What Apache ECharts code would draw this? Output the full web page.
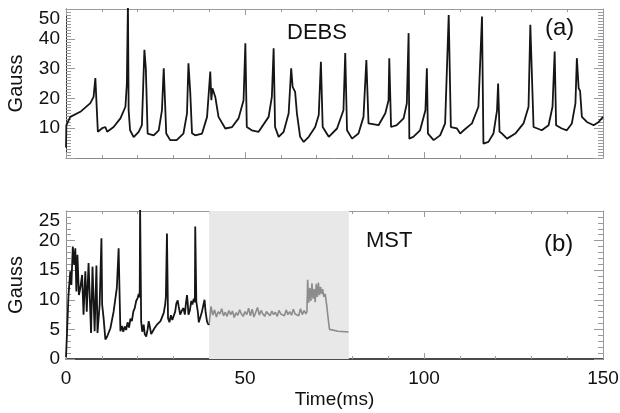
<!DOCTYPE html>
<html><head><meta charset="utf-8">
<script src="https://cdn.jsdelivr.net/npm/echarts@6/dist/echarts.min.js"></script>
<style>html,body{margin:0;padding:0;background:#fff}#c{width:620px;height:413px}</style>
</head><body><div id="c"></div>
<script>
// ---- Data ----
var debsTime = [0,0.1,1.2,4,6.8,7.7,8.2,8.6,8.9,10.1,11,11.5,13.3,15.2,16.6,17.0,17.3,17.5,17.9,18.9,20.3,21.2,21.9,22.3,22.8,24.5,25.9,26.8,27.3,28.0,29.1,30.9,32.8,33.8,34.2,34.7,35.2,36.1,38.0,39.4,40.3,40.6,40.9,41.7,42.6,44.5,46.4,48.2,49.6,50.1,50.5,51.9,53.8,56.6,57.5,58.0,58.4,59.4,60.8,62.2,62.9,63.3,64.0,64.5,65.4,66.4,67.8,69.6,70.6,71.2,71.7,73.4,73.8,75.7,77.5,78.0,78.5,79.9,81.7,83.1,83.9,84.5,87.3,89.2,90.1,90.3,90.8,92.4,94.3,95.2,95.7,95.9,97.0,98.9,100.4,100.8,101.1,102.7,104.5,105.9,106.9,107.5,109.2,110.1,111.1,113.4,115.2,116.2,116.6,118.0,119.4,120.4,120.7,121.1,121.8,123.2,125.5,127.8,129.2,129.7,130.6,132.9,134.8,135.9,136.5,136.9,138.5,139.9,141.3,142.3,142.7,143.2,143.6,144.1,145.5,147.4,148.8,150];
var debsGauss = [3.5,11,13.8,15.5,18.4,20.5,26.8,26.2,8.8,10,10.4,8.8,10.4,13.3,17.2,25,52,16,9.3,7,8.8,11,36.3,30,8.2,7.6,9.3,16,30.1,8.2,6,6,8.2,15,31.8,22.2,8.3,7.6,8.2,13.8,29,19.4,23.4,20.5,13.8,9.9,10.4,13.3,19.4,38.5,10.4,9.3,8.8,13.8,20.5,36.8,10.4,7.1,8.8,15,30.1,23.9,22.2,15,7.1,5.4,7.1,10.4,14.4,32.3,10.4,7.1,7.6,9.9,16,35.2,9.3,6.5,8.2,13.8,32.9,11.6,11,15,19.4,33.5,10.4,11,13.3,18.3,41.9,6.5,7.1,9.3,16,30.1,8.2,6,7.6,11.6,48,10.4,9.9,8.2,9.3,11.6,17.2,47.5,4.8,5.4,8.2,16,25,8.8,8.2,6.5,8.2,11.6,17.2,44.7,10.4,9.3,11,17.2,35.7,11,9.9,9.3,11.6,18.3,33.5,23.4,22.5,13.8,12.1,11,12.1,13.8];

var mstTime = [0,0.3,0.7,1.2,1.5,1.9,2.3,2.6,2.9,3.2,3.6,4.0,4.5,4.9,5.4,5.8,6.3,7.0,7.4,8.0,8.5,8.8,9.4,9.9,10.1,10.5,11.0,11.5,12.4,13.3,14.2,14.7,15.0,15.2,15.6,16.0,16.4,16.8,17.2,17.6,18.0,18.4,18.8,19.2,19.6,20.0,20.3,20.5,20.6,20.7,21.0,21.3,21.7,22.0,22.4,22.8,23.1,23.4,23.8,24.3,24.7,25.1,25.4,25.9,26.4,26.8,27.3,27.7,27.9,28.2,28.5,28.9,29.3,29.7,30.1,30.5,30.8,31.2,31.5,31.9,32.3,32.8,33.2,33.5,33.8,34.0,34.2,34.6,35.0,35.3,35.7,36.0,36.1,36.4,36.8,37.1,37.5,37.9,38.3,38.7,39.0,39.4,39.8,40];
var mstGauss = [0.3,4.7,10.8,14.8,12.5,19,15.9,18.7,11.4,17.6,10.8,12,14.2,7.5,14.8,8,16.2,4.4,15.6,4.7,15.8,4.4,9.2,20.4,9.2,6.9,3.3,3.8,5.2,8,12,18.7,10,4.7,5.6,4.6,5.5,4.9,6.2,5.3,6.8,6.4,8.0,8.6,9.8,10.3,11.0,10.4,11.6,25.5,6.3,4.6,5.8,4.2,3.8,5.0,6.4,5.5,4.2,4.4,5.2,4.9,5.8,5.6,6.4,6.6,7.8,9.2,10.5,21.2,6.9,6.2,7.4,6.6,7.3,8,9.3,9.9,8.8,7.5,8.1,8.6,7.5,9.4,10.8,9.5,7.5,8.2,9.8,9.2,10.2,9.6,22.4,9.7,8.1,6.2,6.1,7.8,8.9,10,7.9,6.3,5.8,6.0];

var greyTime = [40,40.5,41,41.5,42,42.5,43,43.5,44,44.5,45,45.5,46,46.5,47,47.5,48,48.5,49,49.5,50,50.5,51,51.5,52,52.5,53,53.5,54,54.5,55,55.5,56,56.5,57,57.5,58,58.5,59,59.5,60,60.5,61,61.5,62,62.5,63,63.5,64,64.5,65,65.5,66,66.5,67,67.3,67.5,67.8,68.1,68.4,68.7,69,69.3,69.6,69.9,70.2,70.5,70.8,71.1,71.4,71.7,72,72.4,72.8,73.2,73.6,74,76,78,78.9];
var greyGauss = [6.0,8.9,7.4,8.3,7.1,8.0,7.6,8.5,7.3,7.9,7.2,8.2,7.5,8.1,7.0,7.8,7.4,8.3,7.6,7.2,8.0,7.5,8.6,7.3,8.4,7.1,7.9,8.7,7.4,8.2,7.6,7.2,8.0,7.7,7.3,8.1,7.5,7.9,7.2,8.2,7.6,7.9,7.3,8.3,7.5,8.0,7.4,8.4,7.6,7.9,7.3,8.5,7.5,8.2,7.6,8.0,13.4,9.5,12.0,9.8,12.8,10.2,11.8,9.6,12.7,10.5,12.9,10.8,12.2,11.0,11.8,10.5,11.0,9.2,7.0,5.0,4.85,4.7,4.6,4.55];

var shadeRange = [40, 79];

function zip(a, b) { return a.map(function (v, i) { return [v, b[i]]; }); }

var FONT = "'Liberation Sans', Arial, Helvetica, sans-serif";
var tickCol = '#9a9a9a';

function xAx(grid, pos, showLabels, lineCol, lineW) {
  return {
    type: 'value', gridIndex: grid, position: pos, min: 0, max: 150, interval: 50,
    axisLine: { show: true, onZero: false, lineStyle: { color: lineCol, width: lineW } },
    axisTick: { show: true, inside: true, length: 6, lineStyle: { color: tickCol } },
    minorTick: { show: true, splitNumber: 5, length: 3, lineStyle: { color: tickCol } },
    splitLine: { show: false },
    axisLabel: { show: showLabels, color: '#111', fontSize: 19, fontFamily: FONT, margin: 10 },
    name: showLabels ? 'Time(ms)' : '', nameLocation: 'middle', nameGap: 31,
    nameTextStyle: { color: '#111', fontSize: 19, fontFamily: FONT }
  };
}
function yAx(grid, pos, max, interval, minorSplit, showLabels, lineCol, hideZero) {
  return {
    type: 'value', gridIndex: grid, position: pos, min: 0, max: max, interval: interval,
    axisLine: { show: true, onZero: false, lineStyle: { color: lineCol, width: 1 } },
    axisTick: { show: true, inside: true, length: 9, lineStyle: { color: tickCol } },
    minorTick: { show: true, splitNumber: minorSplit, length: 5, lineStyle: { color: tickCol } },
    splitLine: { show: false },
    axisLabel: {
      show: showLabels, color: '#111', fontSize: 19, fontFamily: FONT, margin: 6,
      verticalAlignMaxLabel: 'top',
      formatter: function (v) { return (hideZero && v === 0) ? '' : String(v); }
    },
    name: showLabels ? 'Gauss' : '', nameLocation: 'middle', nameGap: 40, nameRotate: 90,
    nameTextStyle: { color: '#111', fontSize: 20, fontFamily: FONT }
  };
}

var chart = echarts.init(document.getElementById('c'), null, { renderer: 'canvas' });
chart.setOption({
  animation: false,
  backgroundColor: '#fff',
  grid: [
    { left: 66, right: 17, top: 9, height: 149, containLabel: false, outerBoundsMode: 'none' },
    { left: 66, right: 17, top: 211, height: 148, containLabel: false, outerBoundsMode: 'none' }
  ],
  xAxis: [
    xAx(0, 'bottom', false, '#8a8a8a', 1),
    xAx(0, 'top', false, '#9a9a9a', 1),
    xAx(1, 'bottom', true, '#111', 1.6),
    xAx(1, 'top', false, '#9a9a9a', 1)
  ],
  yAxis: [
    yAx(0, 'left', 50, 10, 10, true, '#333', true),
    yAx(0, 'right', 50, 10, 10, false, '#9a9a9a', false),
    yAx(1, 'left', 25, 5, 5, true, '#8a8a8a', false),
    yAx(1, 'right', 25, 5, 5, false, '#9a9a9a', false)
  ],
  graphic: [
    { type: 'text', left: 287, top: 22, style: { text: 'DEBS', font: "22px " + FONT, fill: '#111' } },
    { type: 'text', left: 545, top: 16, style: { text: '(a)', font: "24px " + FONT, fill: '#111' } },
    { type: 'text', left: 366, top: 230, style: { text: 'MST', font: "22px " + FONT, fill: '#111' } },
    { type: 'text', left: 544, top: 232, style: { text: '(b)', font: "24px " + FONT, fill: '#111' } }
  ],
  series: [
    {
      type: 'line', xAxisIndex: 2, yAxisIndex: 2, data: [], z: 1, silent: true,
      markArea: { silent: true, itemStyle: { color: '#e8e8e8' },
        data: [[{ xAxis: shadeRange[0] }, { xAxis: shadeRange[1] }]] }
    },
    {
      type: 'line', xAxisIndex: 0, yAxisIndex: 0, data: zip(debsTime, debsGauss),
      showSymbol: false, clip: true, z: 3,
      lineStyle: { color: '#151515', width: 1.8 }
    },
    {
      type: 'line', xAxisIndex: 2, yAxisIndex: 2, data: zip(mstTime, mstGauss),
      showSymbol: false, clip: true, z: 3,
      lineStyle: { color: '#151515', width: 1.8 }
    },
    {
      type: 'line', xAxisIndex: 2, yAxisIndex: 2, data: zip(greyTime, greyGauss),
      showSymbol: false, clip: true, z: 3,
      lineStyle: { color: '#8c8c8c', width: 1.6 }
    }
  ]
});
</script>
</body></html>
